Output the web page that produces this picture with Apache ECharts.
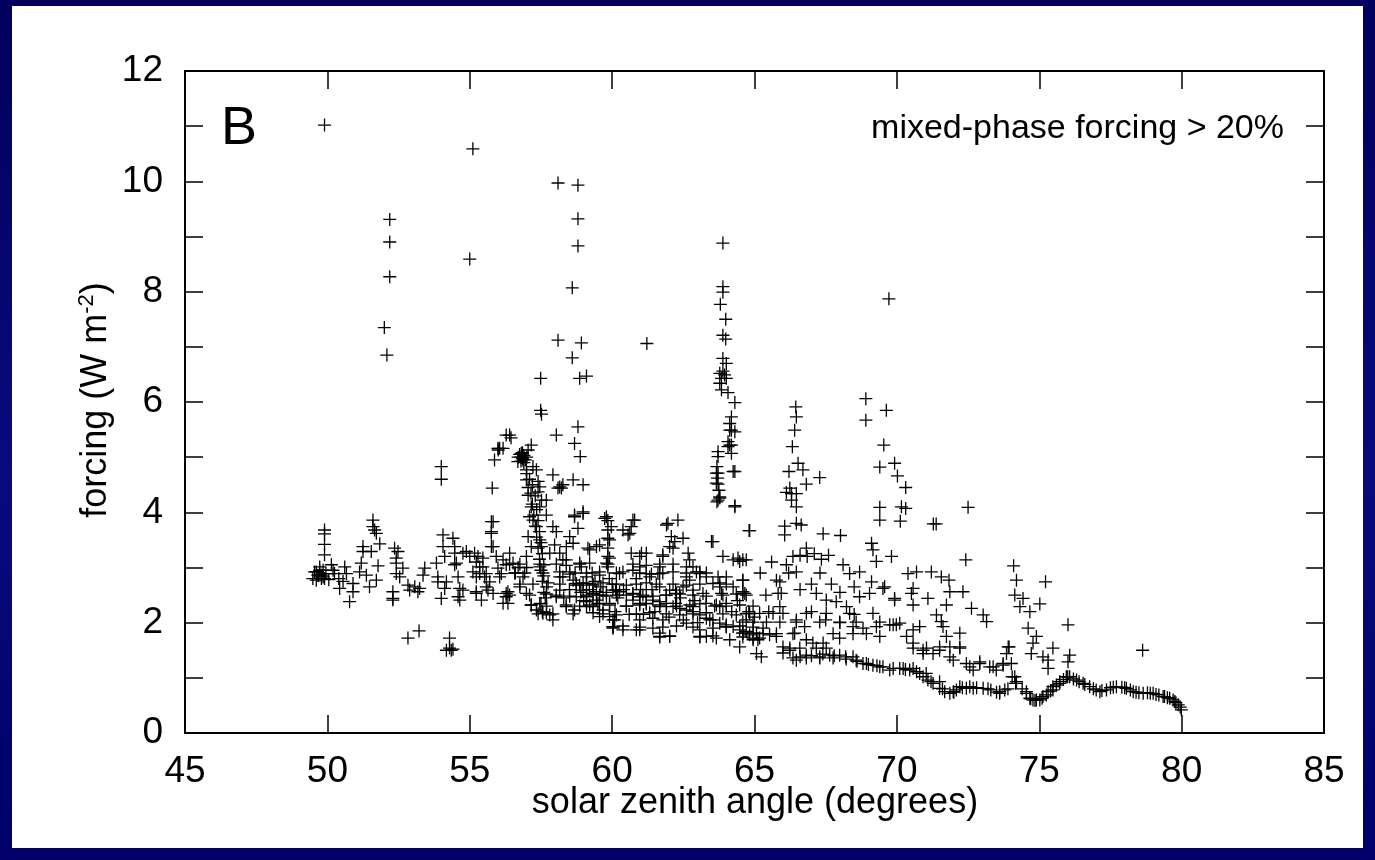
<!DOCTYPE html>
<html>
<head>
<meta charset="utf-8">
<title>forcing vs solar zenith angle</title>
<script src="https://cdn.jsdelivr.net/npm/echarts@6/dist/echarts.min.js"></script>
<style>
  html, body { margin: 0; padding: 0; }
  body {
    width: 1375px; height: 860px; position: relative; overflow: hidden;
    background: linear-gradient(180deg, #00005c 0%, #0a0a7e 55%, #000068 100%);
  }
  #panel { position: absolute; left: 12px; top: 6px; width: 1351px; height: 842px; background: #fff; }
  #chart { position: absolute; left: 0; top: 0; width: 1375px; height: 860px; }
</style>
</head>
<body>
<div id="panel"></div>
<div id="chart"></div>
<script>
const xRange = [45, 85]
const yRange = [0, 12]

// scattered points left of the plume (sza 49.5 - 57)
const leftCluster = [
  [49.49, 2.80], [49.55, 2.92], [49.61, 2.77], [49.61, 2.92], [49.66, 2.86], [49.73, 2.95], [49.73, 3.01],
  [49.79, 2.86], [49.79, 2.80], [49.85, 2.83], [49.90, 2.80], [49.90, 3.23], [49.90, 3.42], [49.90, 3.61],
  [49.90, 3.68], [49.95, 2.89], [49.70, 2.85], [49.85, 2.95], [50.05, 2.78], [50.14, 3.05], [50.25, 2.89],
  [50.20, 2.95], [50.43, 2.62], [50.40, 2.80], [50.55, 2.75], [50.61, 3.01], [50.67, 2.89], [50.78, 2.38],
  [50.90, 2.71], [50.90, 2.56], [51.13, 2.92], [51.19, 3.08], [51.25, 3.29], [51.25, 3.38], [51.37, 2.86],
  [51.48, 2.65], [51.54, 3.29], [51.60, 3.86], [51.60, 3.74], [51.66, 3.68], [51.72, 3.62], [51.72, 2.77],
  [51.78, 3.03], [51.84, 3.43], [52.30, 2.56], [52.30, 2.44], [52.30, 2.41], [52.36, 3.35], [52.42, 3.17],
  [52.42, 3.08], [52.42, 2.89], [52.48, 3.29], [52.54, 2.83], [52.65, 2.99], [52.83, 2.68], [52.89, 2.59],
  [53.07, 2.65], [53.18, 2.56], [53.24, 2.62], [53.36, 2.86], [53.42, 2.99], [52.83, 1.72], [53.22, 1.85],
  [53.83, 3.08], [53.88, 2.83], [53.88, 2.74], [54.00, 2.44], [54.06, 3.59], [54.06, 3.38], [54.12, 3.20],
  [54.18, 2.74], [54.12, 2.62], [54.41, 3.53], [54.47, 3.38], [54.47, 3.26], [54.53, 3.08], [54.47, 3.05],
  [54.59, 2.83], [54.65, 2.62], [54.59, 2.47], [54.65, 2.41], [54.29, 1.72], [54.29, 1.54], [54.41, 1.52],
  [54.18, 1.50], [54.35, 1.50], [54.76, 3.26], [54.88, 3.29], [55.00, 3.20], [55.17, 3.26], [55.29, 3.20],
  [55.46, 3.17], [55.23, 3.10], [55.46, 3.01], [55.35, 2.89], [55.52, 2.83], [55.11, 2.92], [55.64, 2.59],
  [55.70, 2.74], [55.23, 2.56], [55.41, 2.41], [54.76, 2.59], [55.23, 2.53], [55.23, 2.83], [55.35, 3.01],
  [55.58, 2.89], [55.58, 2.65], [55.82, 2.53], [55.76, 3.38], [55.76, 3.62], [55.76, 3.83], [55.93, 3.20],
  [55.99, 2.99], [56.11, 2.89], [56.28, 3.05], [56.28, 2.53], [56.34, 2.35], [56.05, 2.83], [56.28, 2.47],
  [56.17, 2.35], [56.17, 3.14], [56.40, 3.26], [56.34, 2.56], [56.52, 3.08], [56.87, 2.83], [56.76, 2.65],
  [56.99, 2.53], [56.60, 2.90], [56.70, 3.00]
]

// isolated high values
const highSpikes = [
  [49.90, 11.02], [55.11, 10.59], [58.10, 9.97], [58.80, 9.93], [52.19, 9.31], [58.80, 9.32], [52.19, 8.90],
  [58.80, 8.83], [55.00, 8.59], [52.19, 8.27], [58.60, 8.07], [52.00, 7.35], [58.10, 7.12], [58.92, 7.07],
  [52.09, 6.85], [58.60, 6.80], [57.49, 6.43], [58.86, 6.43], [59.10, 6.47], [61.22, 7.06], [57.49, 5.85],
  [57.52, 5.78], [54.00, 4.83], [54.00, 4.60], [58.80, 5.55], [58.68, 5.25], [58.88, 5.01], [58.04, 5.40]
]

// the plume near 57 degrees
const plume57 = [
  [55.79, 4.44], [55.87, 4.95], [55.99, 5.16], [56.17, 5.16], [56.28, 5.40], [56.40, 5.40], [56.05, 5.16],
  [56.00, 5.13], [56.45, 5.35], [56.81, 5.07], [56.87, 4.95], [57.05, 5.13], [57.16, 5.22], [56.69, 4.92],
  [56.75, 5.05], [56.80, 5.00], [56.85, 4.98], [56.90, 5.03], [56.95, 4.95], [56.80, 4.93], [56.90, 4.90],
  [57.00, 5.00], [56.70, 5.00], [56.85, 5.08], [56.99, 4.77], [57.22, 4.83], [57.34, 4.77], [56.99, 4.59],
  [57.40, 4.56], [57.46, 4.46], [57.05, 4.31], [57.40, 4.37], [57.52, 4.22], [57.69, 4.22], [57.16, 4.10],
  [57.46, 4.10], [57.10, 3.92], [57.69, 3.95], [57.22, 3.86], [57.34, 3.74], [57.92, 3.74], [57.05, 3.56],
  [57.46, 3.50], [58.04, 3.65], [57.16, 3.38], [57.52, 3.38], [57.98, 3.41], [57.81, 3.26], [56.99, 3.20],
  [57.00, 4.70], [57.10, 4.60], [57.05, 4.45], [57.20, 4.50], [57.15, 4.35], [57.30, 4.30], [57.20, 4.15],
  [57.35, 4.05], [57.25, 3.95], [57.40, 3.85], [57.30, 3.75], [57.45, 3.65], [57.35, 3.55], [57.50, 3.45],
  [57.40, 3.35], [57.55, 3.25], [57.45, 3.15], [57.60, 3.05], [57.50, 2.95], [57.60, 2.85], [57.55, 2.75],
  [57.70, 2.65], [57.60, 2.55], [57.65, 2.45], [57.50, 2.35], [57.70, 2.30], [57.55, 2.20], [58.16, 4.46],
  [58.10, 4.44], [58.27, 4.50], [57.92, 4.68], [58.63, 4.59], [58.98, 4.50], [58.22, 4.44], [55.82, 3.83],
  [55.76, 3.65], [55.82, 3.38], [57.00, 3.00], [57.46, 3.01]
]

// main dense band, 57 - 65 degrees
const mainBand = [
  [57.16, 2.32], [57.34, 2.23], [57.57, 2.17], [57.81, 2.14], [57.92, 2.05], [58.16, 2.59], [58.04, 2.47],
  [58.39, 2.29], [58.68, 2.23], [58.16, 2.83], [58.51, 2.92], [58.74, 2.71], [59.10, 2.83], [58.86, 3.08],
  [58.39, 3.14], [58.98, 2.59], [59.10, 2.47], [59.33, 2.53], [59.45, 2.41], [59.10, 2.29], [59.56, 2.11],
  [60.03, 2.05], [60.03, 1.93], [59.91, 2.35], [60.12, 2.59], [60.73, 2.53], [60.97, 2.47], [61.20, 2.35],
  [61.67, 2.29], [60.73, 2.95], [61.20, 2.89], [61.67, 2.89], [60.97, 1.87], [61.67, 1.81], [60.38, 1.87],
  [61.78, 2.05], [62.23, 2.35], [62.84, 2.29], [62.23, 2.59], [62.61, 2.83], [63.31, 2.83], [63.78, 2.65],
  [64.01, 2.83], [63.78, 2.29], [64.59, 2.53], [63.43, 2.05], [64.01, 1.93], [64.59, 1.81], [64.95, 1.69],
  [63.08, 1.75], [58.68, 3.92], [58.98, 3.98], [58.80, 3.71], [58.51, 3.56], [58.63, 3.44], [58.39, 3.38],
  [58.16, 3.26], [59.15, 3.35], [59.80, 3.92], [59.85, 3.85], [59.97, 3.74], [59.85, 3.53], [59.85, 3.35],
  [59.85, 3.20], [59.80, 3.08], [59.56, 3.41], [60.73, 3.86], [60.38, 3.68], [60.62, 3.62], [61.96, 3.80],
  [62.31, 3.86], [62.08, 3.56], [62.02, 3.38], [62.14, 3.35], [62.49, 3.53], [61.78, 3.20], [61.67, 3.01],
  [61.03, 3.26], [60.67, 3.26], [62.72, 3.14], [62.84, 3.01], [63.08, 2.89], [63.54, 3.47], [63.89, 3.20],
  [64.42, 3.17], [64.59, 3.14], [64.31, 4.10], [58.98, 4.01], [58.68, 3.95], [59.74, 3.89], [59.85, 3.68],
  [59.91, 3.50], [59.91, 3.17], [59.85, 3.01], [60.79, 3.86], [60.67, 3.74], [60.56, 3.59], [59.45, 3.38],
  [59.21, 3.32], [58.27, 3.14], [60.97, 3.20], [61.20, 3.26], [60.97, 3.01], [61.32, 2.83], [61.91, 3.77],
  [62.20, 3.47], [61.78, 3.23], [61.61, 2.89], [62.67, 3.26], [62.61, 3.01], [62.96, 2.92], [63.72, 2.83],
  [64.25, 3.14], [64.48, 3.11], [64.59, 2.77], [64.66, 2.53], [64.25, 2.65], [63.84, 2.53], [64.01, 2.35],
  [63.54, 2.71], [63.49, 3.47], [58.27, 2.83], [58.63, 2.77], [58.86, 2.68], [59.10, 2.71], [59.33, 2.68],
  [59.56, 2.86], [59.45, 2.56], [59.68, 2.50], [60.03, 2.59], [60.26, 2.56], [60.50, 2.50], [60.73, 2.41],
  [60.97, 2.35], [61.20, 2.47], [61.43, 2.41], [61.67, 2.38], [61.91, 2.35], [62.14, 2.29], [62.38, 2.26],
  [62.61, 2.23], [62.84, 2.20], [63.08, 2.14], [63.31, 2.08], [63.54, 2.05], [63.78, 1.99], [64.01, 1.96],
  [64.25, 1.93], [64.48, 1.87], [64.71, 1.84], [64.95, 1.81], [65.12, 1.69], [58.74, 2.47], [59.10, 2.38],
  [59.33, 2.29], [59.68, 2.23], [59.91, 2.11], [60.09, 2.05], [60.03, 1.90], [60.85, 1.87], [60.97, 2.05],
  [61.43, 2.08], [61.67, 1.75], [62.02, 1.75], [62.61, 1.99], [63.08, 1.87], [63.31, 1.75], [63.66, 1.72],
  [64.13, 1.69], [64.48, 1.56], [65.07, 1.44], [58.92, 3.01], [59.21, 3.08], [60.26, 2.89], [60.85, 2.80],
  [61.67, 2.65], [62.02, 2.59], [62.26, 2.53], [62.49, 2.65], [62.84, 2.59], [63.19, 2.53], [62.72, 2.77],
  [58.90, 2.55], [59.20, 2.60], [59.40, 2.75], [59.60, 2.65], [59.80, 2.55], [60.00, 2.70], [60.20, 2.45],
  [60.40, 2.60], [59.00, 2.40], [59.50, 2.35], [58.50, 2.60], [58.30, 2.45], [58.70, 2.90], [59.30, 2.90],
  [59.90, 2.80], [60.50, 2.30], [60.10, 2.20], [60.60, 2.15], [61.00, 2.60], [61.40, 2.60], [61.10, 2.15],
  [61.50, 2.20], [61.90, 2.50], [62.40, 2.45], [62.00, 2.10], [62.50, 2.05], [62.90, 2.40], [63.30, 2.35],
  [63.00, 2.00], [63.60, 2.30], [64.20, 2.20], [64.80, 2.20], [64.40, 2.40], [65.00, 2.10], [65.30, 1.90],
  [65.50, 2.20]
]

// more crosses read row by row from the densest part of the band
const bandRows = [
  [56.40, 3.06], [56.76, 3.06], [57.46, 3.06], [58.04, 3.06], [58.39, 3.04], [58.86, 3.06], [59.85, 3.06],
  [60.73, 3.06], [61.20, 3.04], [61.67, 3.06], [62.14, 3.06],
  [56.58, 2.90], [56.93, 2.90], [57.57, 2.90], [58.16, 2.92], [58.51, 2.88], [59.10, 2.90], [59.56, 2.92],
  [60.15, 2.90], [60.38, 2.92], [60.97, 2.90], [61.38, 2.88], [61.78, 2.90], [62.14, 2.92], [62.61, 2.90],
  [63.08, 2.92], [63.31, 2.90],
  [56.76, 2.70], [57.22, 2.70], [57.75, 2.72], [58.16, 2.70], [58.74, 2.68], [58.98, 2.72], [59.33, 2.70],
  [59.68, 2.72], [60.15, 2.70], [60.50, 2.68], [60.85, 2.70], [61.20, 2.72], [61.55, 2.70], [62.14, 2.70],
  [62.61, 2.68], [63.08, 2.70], [63.78, 2.72], [64.01, 2.70],
  [56.40, 2.50], [57.10, 2.50], [57.69, 2.52], [58.04, 2.50], [58.51, 2.48], [59.10, 2.50], [59.33, 2.52],
  [59.56, 2.50], [59.80, 2.48], [60.15, 2.50], [60.73, 2.52], [61.08, 2.50], [61.43, 2.48], [61.90, 2.50],
  [62.37, 2.52], [62.84, 2.50], [63.31, 2.48], [63.89, 2.50], [64.36, 2.52], [64.71, 2.50],
  [57.16, 2.32], [57.46, 2.34], [58.39, 2.32], [58.86, 2.30], [59.21, 2.32], [59.56, 2.34], [59.91, 2.32],
  [60.50, 2.30], [60.97, 2.32], [61.20, 2.34], [61.67, 2.32], [62.26, 2.30], [62.73, 2.32], [63.08, 2.34],
  [63.66, 2.32], [64.01, 2.30], [64.48, 2.32], [64.95, 2.30],
  [57.40, 2.16], [57.69, 2.18], [57.92, 2.16], [58.63, 2.16], [59.33, 2.18], [59.68, 2.16], [60.15, 2.14],
  [60.85, 2.16], [61.32, 2.18], [61.90, 2.16], [62.37, 2.14], [62.84, 2.16], [63.31, 2.18], [63.89, 2.16],
  [64.36, 2.14], [64.83, 2.16],
  [60.03, 1.92], [60.38, 1.94], [60.97, 1.92], [61.43, 1.90], [61.78, 1.92], [62.26, 1.94], [62.84, 1.92],
  [63.54, 1.90], [64.01, 1.92], [64.48, 1.94], [64.95, 1.92],
  [61.67, 1.74], [62.02, 1.76], [63.08, 1.74], [63.54, 1.76], [64.59, 1.74], [64.95, 1.72]
]

// the spike near 64 degrees
const spike64 = [
  [63.89, 8.88], [63.89, 8.09], [63.89, 7.99], [63.80, 7.77], [63.99, 7.50], [63.89, 7.21], [63.99, 7.14],
  [63.89, 6.79], [64.01, 6.70], [63.89, 6.56], [63.78, 6.52], [63.95, 6.49], [63.84, 6.43], [64.01, 6.43],
  [63.78, 6.34], [63.84, 6.22], [64.07, 6.17], [64.31, 5.99], [64.19, 5.73], [64.13, 5.61], [64.19, 5.49],
  [64.31, 5.46], [64.07, 5.28], [64.19, 5.22], [64.07, 5.19], [64.19, 5.07], [63.72, 5.10], [63.72, 5.01],
  [63.68, 4.83], [64.31, 4.74], [63.72, 4.71], [63.72, 4.51], [63.78, 4.28], [63.68, 4.19], [64.31, 4.12],
  [64.81, 3.67], [64.13, 5.22], [64.13, 5.49], [63.66, 4.53], [63.66, 4.71], [63.72, 4.22], [63.78, 4.26],
  [63.70, 4.62], [63.75, 4.40], [64.25, 4.74]
]

// upper scatter right of 65 degrees
const upperRight = [
  [66.45, 5.91], [66.47, 5.73], [66.41, 5.49], [66.33, 5.19], [66.53, 4.89], [66.70, 4.77], [66.21, 4.74],
  [66.82, 4.51], [67.29, 4.63], [66.24, 4.44], [66.12, 4.36], [66.30, 4.34], [66.47, 4.34], [66.30, 4.22],
  [66.47, 4.10], [66.47, 3.80], [66.64, 3.77], [66.06, 3.75], [66.06, 3.59], [68.91, 6.06], [69.63, 5.85],
  [68.91, 5.67], [69.54, 5.22], [69.40, 4.82], [69.92, 4.89], [70.02, 4.66], [70.31, 4.45], [69.40, 4.09],
  [70.16, 4.10], [70.31, 4.07], [69.40, 3.86], [70.12, 3.84], [71.28, 3.79], [71.38, 3.79], [72.50, 4.09],
  [69.72, 7.87], [67.41, 3.61], [68.02, 3.58], [69.11, 3.44], [69.16, 3.32], [69.28, 3.11], [69.81, 3.20],
  [72.42, 3.14], [74.10, 3.03], [75.22, 2.74], [76.01, 1.96], [78.63, 1.50], [64.83, 3.67]
]

// middle tracks, 64.5 - 76 degrees
const midRight = [
  [64.71, 3.14], [64.59, 2.77], [64.59, 2.56], [65.77, 2.77], [65.94, 2.53], [65.89, 2.29], [66.47, 2.05],
  [66.76, 1.93], [66.41, 1.81], [66.82, 1.69], [67.05, 1.63], [64.71, 2.05], [65.07, 1.81], [66.00, 1.56],
  [66.82, 3.35], [66.35, 3.20], [66.60, 3.22], [66.85, 3.20], [67.10, 3.25], [67.35, 3.15], [67.60, 3.22],
  [66.12, 3.05], [66.47, 2.92], [65.89, 2.74], [65.83, 2.53], [68.11, 3.05], [68.34, 2.89], [68.69, 2.92],
  [69.11, 2.74], [69.51, 2.62], [70.39, 2.89], [70.69, 2.92], [71.21, 2.92], [71.56, 2.83], [71.83, 2.77],
  [71.86, 2.56], [72.32, 2.56], [72.62, 2.26], [73.15, 2.02], [67.17, 2.53], [67.52, 2.41], [67.87, 2.38],
  [68.23, 2.29], [68.69, 2.47], [69.04, 2.53], [69.16, 2.17], [67.41, 1.63], [67.99, 1.72], [68.46, 1.93],
  [68.81, 1.90], [69.28, 1.93], [69.75, 1.96], [69.98, 1.96], [70.34, 1.75], [70.57, 1.63], [70.92, 1.50],
  [71.27, 1.44], [71.50, 1.56], [71.86, 1.38], [72.21, 1.56], [72.56, 1.20], [72.91, 1.26], [73.38, 1.20],
  [73.73, 1.26], [69.57, 2.65], [69.92, 2.44], [69.92, 2.41], [70.57, 2.62], [70.51, 2.53], [71.09, 2.44],
  [70.57, 2.32], [71.74, 2.32], [73.03, 2.14], [71.39, 2.14], [71.56, 2.02], [71.62, 1.93], [70.80, 1.93],
  [70.57, 1.87], [72.21, 1.81], [71.74, 1.75], [69.87, 1.96], [70.10, 1.99], [70.92, 1.44], [71.50, 1.50],
  [71.86, 1.56], [72.21, 1.54], [71.98, 1.32], [72.44, 1.26], [72.91, 1.29], [72.68, 1.14], [73.26, 1.20],
  [73.49, 1.14], [73.73, 1.23], [73.85, 1.44], [73.91, 1.56], [74.02, 1.26], [69.40, 1.75], [74.20, 2.77],
  [74.14, 2.50], [74.43, 2.44], [74.32, 2.29], [74.67, 2.20], [75.02, 2.34], [74.61, 1.90], [74.78, 1.63],
  [74.90, 1.75], [75.13, 1.38], [75.48, 1.54], [75.31, 1.32], [76.07, 1.41], [76.01, 1.29], [74.72, 1.44],
  [75.31, 1.17], [73.94, 1.56], [66.20, 2.90], [66.60, 2.60], [67.00, 2.70], [67.30, 2.90], [67.70, 2.70],
  [68.00, 2.55], [68.50, 2.65], [67.00, 2.20], [67.50, 2.05], [68.00, 2.00], [68.50, 2.15], [65.40, 2.50],
  [65.60, 3.10], [65.20, 2.90],
  [64.71, 2.17], [65.18, 2.17], [65.65, 2.17], [66.00, 2.17], [66.82, 2.17], [67.52, 2.17], [68.34, 2.17],
  [64.59, 2.01], [64.95, 2.01], [65.42, 2.01], [65.89, 2.01], [66.47, 2.01], [67.29, 2.01], [67.99, 2.01],
  [68.57, 2.01], [69.40, 2.01], [65.30, 1.80], [65.77, 1.80], [66.35, 1.80], [67.76, 1.80], [68.46, 1.80],
  [68.93, 1.80], [66.24, 1.54], [66.59, 1.54], [67.17, 1.54], [67.52, 1.54], [70.57, 1.54], [71.04, 1.54]
]

// lowest track down to 80 degrees
const lowTrack = [
  [64.59, 1.81], [64.83, 1.78], [65.18, 1.72], [65.53, 1.78], [65.77, 1.75], [65.24, 1.38], [66.24, 1.50],
  [66.47, 1.32], [66.82, 1.41], [67.29, 1.38], [67.64, 1.41], [67.99, 1.41], [68.46, 1.38], [68.81, 1.26],
  [69.16, 1.23], [69.51, 1.20], [69.87, 1.17], [70.22, 1.17], [70.57, 1.17], [71.03, 1.08], [71.50, 0.93],
  [71.98, 0.75], [72.21, 0.84], [72.56, 0.84], [73.03, 0.81], [73.61, 0.72], [69.40, 1.20], [69.75, 1.14],
  [70.10, 1.17], [70.45, 1.14], [70.69, 1.11], [70.92, 1.02], [71.09, 0.96], [71.27, 0.90], [71.50, 0.81],
  [71.68, 0.75], [71.86, 0.72], [72.09, 0.78], [72.44, 0.81], [72.68, 0.81], [73.61, 0.75], [73.79, 0.78],
  [74.05, 1.02], [74.17, 0.90], [74.20, 0.93], [74.14, 1.02], [74.55, 0.72], [74.55, 0.75], [74.67, 0.63],
  [74.78, 0.60], [74.90, 0.60], [75.02, 0.60], [75.13, 0.66], [75.25, 0.69], [75.31, 0.75], [75.48, 0.78],
  [75.48, 0.84], [75.72, 0.90], [75.72, 0.93], [75.95, 1.02], [76.07, 1.02], [76.31, 0.96], [76.54, 0.90],
  [76.77, 0.84], [77.13, 0.75], [77.36, 0.78], [77.71, 0.84], [78.06, 0.81], [78.30, 0.75], [78.65, 0.72],
  [79.00, 0.72], [79.35, 0.66], [79.58, 0.63], [79.76, 0.57], [79.88, 0.51], [79.99, 0.42], [76.00, 1.02],
  [76.20, 0.98], [76.40, 0.93], [76.90, 0.80], [77.00, 0.78], [77.50, 0.82], [77.90, 0.83], [78.20, 0.78],
  [78.40, 0.74], [78.80, 0.73], [79.10, 0.70], [79.20, 0.69], [79.50, 0.64], [79.70, 0.60], [66.00, 1.45],
  [66.60, 1.38], [67.00, 1.40], [67.40, 1.43], [67.80, 1.40], [68.20, 1.38], [68.60, 1.30], [69.00, 1.24],
  [69.30, 1.22], [73.30, 0.78], [73.90, 0.80], [74.40, 0.80],
  [66.35, 1.36], [66.82, 1.36], [67.29, 1.36], [67.76, 1.36], [68.22, 1.34], [68.57, 1.32], [68.93, 1.26],
  [70.30, 1.15], [70.80, 1.08], [71.20, 0.93], [71.60, 0.80], [72.00, 0.74], [72.30, 0.82], [72.80, 0.82],
  [73.20, 0.80], [73.50, 0.74], [74.70, 0.62], [74.85, 0.59], [75.10, 0.63], [75.40, 0.76], [75.60, 0.87],
  [75.85, 0.97], [76.60, 0.88], [77.20, 0.77], [77.60, 0.83], [78.00, 0.82], [78.50, 0.73], [78.90, 0.72],
  [79.40, 0.66], [79.80, 0.55], [79.95, 0.47]
]

const points = [].concat(leftCluster, highSpikes, plume57, mainBand, bandRows, spike64, upperRight, midRight, lowTrack)

const font = '"Liberation Sans", Arial, Helvetica, sans-serif'
const plus = 'path://M5.85,0h1.3v13h-1.3zM0,5.85h13v1.3h-13z'

const frameAxis = {
  axisLine: { onZero: false, lineStyle: { color: '#000', width: 2 } },
  axisTick: { inside: true, length: 18, lineStyle: { color: '#000', width: 1.5 } },
  splitLine: { show: false }
}

const chart = echarts.init(document.getElementById('chart'), null, { renderer: 'canvas' })
chart.setOption({
  animation: false,
  backgroundColor: 'transparent',
  grid: { left: 185, top: 71, width: 1139, height: 662 },
  xAxis: [
    {
      type: 'value', min: xRange[0], max: xRange[1], interval: 5, position: 'bottom', ...frameAxis,
      axisLabel: { color: '#000', fontSize: 37, fontFamily: font, margin: 20 }
    },
    {
      type: 'value', min: xRange[0], max: xRange[1], interval: 5, position: 'top', ...frameAxis,
      axisLabel: { show: false }
    }
  ],
  yAxis: [
    {
      type: 'value', min: yRange[0], max: yRange[1], interval: 1, position: 'left', ...frameAxis,
      axisLabel: {
        color: '#000', fontSize: 37, fontFamily: font, margin: 22,
        formatter: v => (v % 2 === 0 ? String(v) : '')
      }
    },
    {
      type: 'value', min: yRange[0], max: yRange[1], interval: 1, position: 'right', ...frameAxis,
      axisLabel: { show: false }
    }
  ],
  graphic: [
    {
      type: 'text', x: 221, y: 129,
      style: { text: 'B', fontSize: 54, fontFamily: font, fill: '#000', align: 'left', verticalAlign: 'middle' }
    },
    {
      type: 'text', x: 1284, y: 129,
      style: { text: 'mixed-phase forcing > 20%', fontSize: 34, fontFamily: font, fill: '#000', align: 'right', verticalAlign: 'middle' }
    },
    {
      type: 'text', x: 755, y: 803,
      style: { text: 'solar zenith angle (degrees)', fontSize: 36, fontFamily: font, fill: '#000', align: 'center', verticalAlign: 'middle' }
    },
    {
      type: 'text', x: 96, y: 400, rotation: Math.PI / 2,
      style: {
        text: '{a|forcing (W m}{s|-2}{a|)}',
        align: 'center', verticalAlign: 'middle', fill: '#000',
        rich: {
          a: { fontSize: 36, fontFamily: font, fill: '#000', lineHeight: 40 },
          s: { fontSize: 22, fontFamily: font, fill: '#000', verticalAlign: 'top', lineHeight: 22 }
        }
      }
    }
  ],
  series: [
    {
      type: 'scatter',
      data: points,
      symbol: plus,
      symbolSize: 13,
      silent: true,
      itemStyle: { color: '#000', opacity: 1 },
      emphasis: { disabled: true }
    }
  ]
})
</script>
</body>
</html>
